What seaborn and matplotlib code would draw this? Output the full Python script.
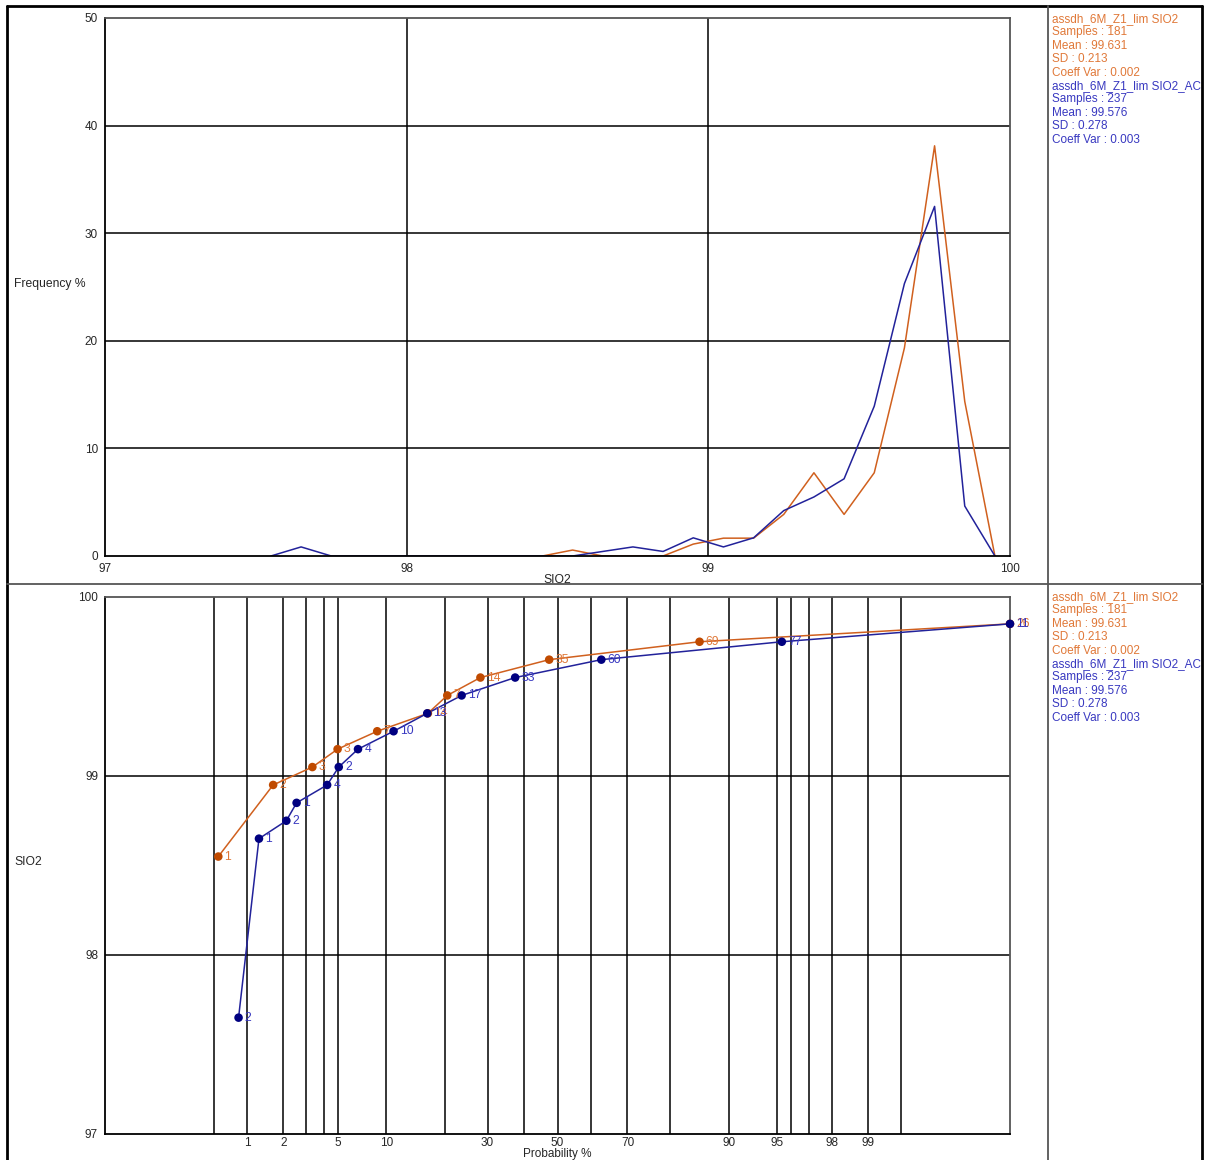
import numpy as np
import pandas as pd
import matplotlib
matplotlib.use('Agg')
import matplotlib.pyplot as plt
import seaborn as sns
from statistics import NormalDist
from matplotlib.lines import Line2D

# SIO2 classes (class value) and sample count in each class
orange_sio2 = [98.55, 98.95, 99.05, 99.15, 99.25, 99.35, 99.45, 99.55, 99.65, 99.75, 99.85]
orange_counts = [1, 2, 3, 3, 7, 14, 7, 14, 35, 69, 26]
blue_sio2 = [97.65, 98.65, 98.75, 98.85, 98.95, 99.05, 99.15, 99.25, 99.35, 99.45, 99.55,
             99.65, 99.75, 99.85]
blue_counts = [2, 1, 2, 1, 4, 2, 4, 10, 13, 17, 33, 60, 77, 11]

# class grid of the frequency curves (empty classes included)
orange_bins = [98.45, 98.55, 98.65, 98.75, 98.85, 98.95, 99.05, 99.15, 99.25, 99.35, 99.45,
               99.55, 99.65, 99.75, 99.85, 99.95]
blue_bins = [97.55, 97.65, 97.75, 97.85, 97.95, 98.05, 98.15, 98.25, 98.35, 98.45, 98.55,
             98.65, 98.75, 98.85, 98.95, 99.05, 99.15, 99.25, 99.35, 99.45, 99.55, 99.65,
             99.75, 99.85, 99.95]

orange_stats = ['assdh_6M_Z1_lim SIO2', 'Samples : 181', 'Mean : 99.631', 'SD : 0.213',
                'Coeff Var : 0.002']
blue_stats = ['assdh_6M_Z1_lim SIO2_AC', 'Samples : 237', 'Mean : 99.576', 'SD : 0.278',
              'Coeff Var : 0.003']

prob_labels = [1, 2, 5, 10, 30, 50, 70, 90, 95, 98, 99]
prob_grid = [0.5, 1, 2, 3, 4, 5, 10, 20, 30, 40, 50, 60, 70, 80, 90, 95, 96, 97, 98, 99, 99.5]

ORANGE_LINE = '#D0601E'
ORANGE_DOT = '#C04A00'
ORANGE_TXT = '#E07838'
BLUE_LINE = '#22229A'
BLUE_DOT = '#000080'
BLUE_TXT = '#3838C0'

sns.set_style('white')
plt.rcParams['font.family'] = ['Liberation Sans', 'DejaVu Sans']
plt.rcParams['font.size'] = 8.5

W, H = 1205, 1160
fig = plt.figure(figsize=(W / 100, H / 100), dpi=100)


def px_axes(x0, y0, x1, y1):
    return fig.add_axes([x0 / W, 1 - y1 / H, (x1 - x0) / W, (y1 - y0) / H])


def style_frame(ax):
    for side in ['left', 'bottom']:
        ax.spines[side].set_color('black')
        ax.spines[side].set_linewidth(1.3)
    for side in ['top', 'right']:
        ax.spines[side].set_color('#555555')
        ax.spines[side].set_linewidth(1.3)
    ax.tick_params(length=0, labelsize=8.5, pad=5)


# ---- frequency curves
rows = []
for name, sio2, counts, bins in [('orange', orange_sio2, orange_counts, orange_bins),
                                 ('blue', blue_sio2, blue_counts, blue_bins)]:
    lookup = dict(zip(sio2, counts))
    total = sum(counts)
    for b in bins:
        rows.append({'series': name, 'SIO2': b, 'freq': lookup.get(b, 0) / total * 100})
freq_df = pd.DataFrame(rows)

ax1 = px_axes(105, 18, 1010, 556)
for v in [98, 99]:
    ax1.axvline(v, color='black', lw=1.1, zorder=1)
for v in [10, 20, 30, 40]:
    ax1.axhline(v, color='black', lw=1.1, zorder=1)
sns.lineplot(data=freq_df, x='SIO2', y='freq', hue='series', sort=False,
             palette={'orange': ORANGE_LINE, 'blue': BLUE_LINE}, lw=1.1, ax=ax1,
             legend=False, zorder=2)
ax1.set_xlim(97, 100)
ax1.set_ylim(0, 50)
ax1.set_xticks([97, 98, 99, 100])
ax1.set_yticks([0, 10, 20, 30, 40, 50])
ax1.set_xlabel('')
ax1.set_ylabel('')
style_frame(ax1)

# ---- probability plot
nd = NormalDist()
ZMAX = 3.39


def to_z(p):
    if p >= 100:
        return ZMAX
    return min(nd.inv_cdf(p / 100), ZMAX)


rows = []
for name, sio2, counts in [('orange', orange_sio2, orange_counts),
                           ('blue', blue_sio2, blue_counts)]:
    cum = np.cumsum(counts) / sum(counts) * 100
    for s, c, p in zip(sio2, counts, cum):
        rows.append({'series': name, 'SIO2': s, 'count': c, 'z': to_z(p)})
prob_df = pd.DataFrame(rows)

ax2 = px_axes(105, 597, 1010, 1134)
for p in prob_grid:
    ax2.axvline(nd.inv_cdf(p / 100), color='black', lw=1.1, zorder=1)
for v in [98, 99]:
    ax2.axhline(v, color='black', lw=1.1, zorder=1)
sns.lineplot(data=prob_df, x='z', y='SIO2', hue='series', sort=False,
             palette={'orange': ORANGE_LINE, 'blue': BLUE_LINE}, lw=1.1, ax=ax2,
             legend=False, zorder=2)
sns.scatterplot(data=prob_df, x='z', y='SIO2', hue='series',
                palette={'orange': ORANGE_DOT, 'blue': BLUE_DOT}, s=38, marker='o',
                edgecolor='none', ax=ax2, legend=False, zorder=3, clip_on=False)
for _, r in prob_df.iterrows():
    ax2.annotate(str(r['count']), (r['z'], r['SIO2']), xytext=(4.5, 0),
                 textcoords='offset points', va='center', ha='left', fontsize=8.7,
                 color=ORANGE_TXT if r['series'] == 'orange' else BLUE_TXT, zorder=4)
ax2.set_xlim(-ZMAX, ZMAX)
ax2.set_ylim(97, 100)
ax2.set_xticks([nd.inv_cdf(p / 100) for p in prob_labels])
ax2.set_xticklabels([str(p) for p in prob_labels])
ax2.set_yticks([97, 98, 99, 100])
ax2.set_xlabel('')
ax2.set_ylabel('')
style_frame(ax2)
ax2.tick_params(axis='x', pad=2)

# ---- axis titles
fig.text(557 / W, 1 - 580 / H, 'SIO2', ha='center', va='center', fontsize=8.7)
fig.text(14 / W, 1 - 284 / H, 'Frequency %', ha='left', va='center', fontsize=8.7)
fig.text(14 / W, 1 - 862 / H, 'SIO2', ha='left', va='center', fontsize=8.7)
fig.text(557 / W, 1 - 1154 / H, 'Probability %', ha='center', va='center', fontsize=8.5)

# ---- statistics boxes
for y0 in [19, 597]:
    lines = [(t, ORANGE_TXT) for t in orange_stats] + [(t, BLUE_TXT) for t in blue_stats]
    for i, (t, c) in enumerate(lines):
        fig.text(1052 / W, 1 - (y0 + i * 13.4) / H, t, ha='left', va='center',
                 fontsize=8.5, color=c)

# ---- panel frame
def fig_line(x0, y0, x1, y1, color, lw):
    fig.add_artist(Line2D([x0 / W, x1 / W], [1 - y0 / H, 1 - y1 / H],
                          transform=fig.transFigure, color=color, lw=lw))


fig_line(7, 6, 1202, 6, 'black', 2)
fig_line(7, 6, 7, H, 'black', 2)
fig_line(1202, 6, 1202, H, 'black', 2)
fig_line(7, 584, 1202, 584, '#555555', 1.3)
fig_line(1048, 6, 1048, H, '#555555', 1.3)

fig.savefig('out.png', dpi=100)
